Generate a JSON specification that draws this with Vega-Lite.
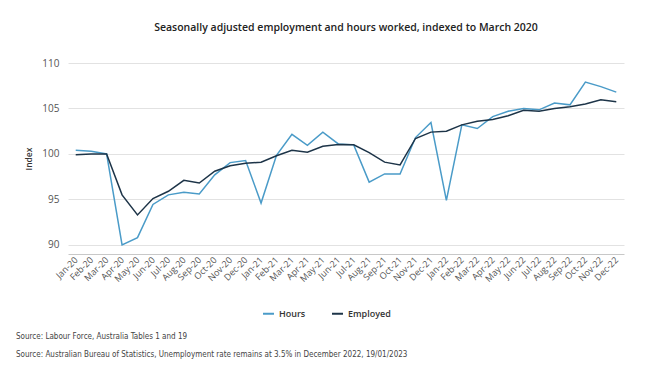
{
  "$schema": "https://vega.github.io/schema/vega-lite/v6.json",
  "padding": {"left": 16, "top": 22, "right": 10, "bottom": 2},
  "background": "white",
  "title": {
    "text": ["Source: Labour Force, Australia Tables 1 and 19", "Source: Australian Bureau of Statistics, Unemployment rate remains at 3.5% in December 2022, 19/01/2023"],
    "orient": "bottom",
    "anchor": "start",
    "frame": "group",
    "dx": -52,
    "offset": 14,
    "font": "DejaVu Sans Condensed",
    "fontSize": 8,
    "fontWeight": "normal",
    "color": "#444",
    "lineHeight": 18
  },
  "vconcat": [
    {
      "title": {
        "text": "Seasonally adjusted employment and hours worked, indexed to March 2020",
        "anchor": "middle",
        "font": "Open Sans",
        "fontSize": 10.5,
        "fontWeight": 600,
        "color": "#222",
        "offset": 25
      },
      "width": 556,
      "height": 191,
      "data": {
        "values": [
          {"month": "Jan-20", "series": "Hours", "value": 100.4},
          {"month": "Feb-20", "series": "Hours", "value": 100.3},
          {"month": "Mar-20", "series": "Hours", "value": 100.0},
          {"month": "Apr-20", "series": "Hours", "value": 90.0},
          {"month": "May-20", "series": "Hours", "value": 90.8},
          {"month": "Jun-20", "series": "Hours", "value": 94.45},
          {"month": "Jul-20", "series": "Hours", "value": 95.5},
          {"month": "Aug-20", "series": "Hours", "value": 95.8},
          {"month": "Sep-20", "series": "Hours", "value": 95.6},
          {"month": "Oct-20", "series": "Hours", "value": 97.7},
          {"month": "Nov-20", "series": "Hours", "value": 99.05},
          {"month": "Dec-20", "series": "Hours", "value": 99.27},
          {"month": "Jan-21", "series": "Hours", "value": 94.6},
          {"month": "Feb-21", "series": "Hours", "value": 99.85},
          {"month": "Mar-21", "series": "Hours", "value": 102.15},
          {"month": "Apr-21", "series": "Hours", "value": 100.95},
          {"month": "May-21", "series": "Hours", "value": 102.4},
          {"month": "Jun-21", "series": "Hours", "value": 101.1},
          {"month": "Jul-21", "series": "Hours", "value": 101.0},
          {"month": "Aug-21", "series": "Hours", "value": 96.9},
          {"month": "Sep-21", "series": "Hours", "value": 97.8},
          {"month": "Oct-21", "series": "Hours", "value": 97.8},
          {"month": "Nov-21", "series": "Hours", "value": 101.8},
          {"month": "Dec-21", "series": "Hours", "value": 103.45},
          {"month": "Jan-22", "series": "Hours", "value": 94.9},
          {"month": "Feb-22", "series": "Hours", "value": 103.2},
          {"month": "Mar-22", "series": "Hours", "value": 102.8},
          {"month": "Apr-22", "series": "Hours", "value": 104.1},
          {"month": "May-22", "series": "Hours", "value": 104.7},
          {"month": "Jun-22", "series": "Hours", "value": 105.0},
          {"month": "Jul-22", "series": "Hours", "value": 104.85},
          {"month": "Aug-22", "series": "Hours", "value": 105.6},
          {"month": "Sep-22", "series": "Hours", "value": 105.4},
          {"month": "Oct-22", "series": "Hours", "value": 107.9},
          {"month": "Nov-22", "series": "Hours", "value": 107.4},
          {"month": "Dec-22", "series": "Hours", "value": 106.8},
          {"month": "Jan-20", "series": "Employed", "value": 99.9},
          {"month": "Feb-20", "series": "Employed", "value": 100.0},
          {"month": "Mar-20", "series": "Employed", "value": 100.0},
          {"month": "Apr-20", "series": "Employed", "value": 95.5},
          {"month": "May-20", "series": "Employed", "value": 93.3},
          {"month": "Jun-20", "series": "Employed", "value": 95.1},
          {"month": "Jul-20", "series": "Employed", "value": 95.9},
          {"month": "Aug-20", "series": "Employed", "value": 97.1},
          {"month": "Sep-20", "series": "Employed", "value": 96.8},
          {"month": "Oct-20", "series": "Employed", "value": 98.1},
          {"month": "Nov-20", "series": "Employed", "value": 98.7},
          {"month": "Dec-20", "series": "Employed", "value": 98.98},
          {"month": "Jan-21", "series": "Employed", "value": 99.1},
          {"month": "Feb-21", "series": "Employed", "value": 99.8},
          {"month": "Mar-21", "series": "Employed", "value": 100.4},
          {"month": "Apr-21", "series": "Employed", "value": 100.2},
          {"month": "May-21", "series": "Employed", "value": 100.85},
          {"month": "Jun-21", "series": "Employed", "value": 101.05},
          {"month": "Jul-21", "series": "Employed", "value": 101.0},
          {"month": "Aug-21", "series": "Employed", "value": 100.15},
          {"month": "Sep-21", "series": "Employed", "value": 99.1},
          {"month": "Oct-21", "series": "Employed", "value": 98.8},
          {"month": "Nov-21", "series": "Employed", "value": 101.7},
          {"month": "Dec-21", "series": "Employed", "value": 102.4},
          {"month": "Jan-22", "series": "Employed", "value": 102.5},
          {"month": "Feb-22", "series": "Employed", "value": 103.2},
          {"month": "Mar-22", "series": "Employed", "value": 103.6},
          {"month": "Apr-22", "series": "Employed", "value": 103.8},
          {"month": "May-22", "series": "Employed", "value": 104.2},
          {"month": "Jun-22", "series": "Employed", "value": 104.8},
          {"month": "Jul-22", "series": "Employed", "value": 104.7},
          {"month": "Aug-22", "series": "Employed", "value": 105.0},
          {"month": "Sep-22", "series": "Employed", "value": 105.2},
          {"month": "Oct-22", "series": "Employed", "value": 105.5},
          {"month": "Nov-22", "series": "Employed", "value": 105.95},
          {"month": "Dec-22", "series": "Employed", "value": 105.75}
        ]
      },
      "mark": {"type": "line", "strokeWidth": 1.5},
      "encoding": {
        "x": {
          "field": "month",
          "type": "ordinal",
          "sort": null,
          "scale": {"type": "point", "padding": 0.5},
          "axis": {
            "title": null,
            "labelAngle": -45,
            "labelAlign": "right",
            "labelBaseline": "middle",
            "labelFont": "Open Sans",
            "labelFontSize": 9,
            "labelColor": "#555",
            "labelPadding": 4,
            "ticks": false,
            "grid": false,
            "domainColor": "#c8c8c8",
            "labelOverlap": false
          }
        },
        "y": {
          "field": "value",
          "type": "quantitative",
          "scale": {"domain": [89, 110], "nice": false, "zero": false},
          "axis": {
            "title": "Index",
            "titleFont": "Open Sans",
            "titleFontSize": 8.5,
            "titleFontWeight": 600,
            "titleColor": "#333",
            "titlePadding": 8,
            "values": [90, 95, 100, 105, 110],
            "labelFont": "Open Sans",
            "labelFontSize": 10,
            "labelColor": "#555",
            "labelPadding": 9,
            "ticks": false,
            "domain": false,
            "gridColor": "#e2e2e2"
          }
        },
        "color": {
          "field": "series",
          "type": "nominal",
          "scale": {"domain": ["Hours", "Employed"], "range": ["#4a9bc8", "#1d3448"]},
          "legend": {
            "title": null,
            "orient": "none",
            "legendX": 194,
            "legendY": 244,
            "direction": "horizontal",
            "symbolType": "stroke",
            "symbolStrokeWidth": 2,
            "symbolSize": 120,
            "labelFont": "Open Sans",
            "labelFontSize": 9,
            "labelFontWeight": 600,
            "labelColor": "#333",
            "columnPadding": 22
          }
        }
      }
    }
  ],
  "config": {"view": {"stroke": null}}
}
